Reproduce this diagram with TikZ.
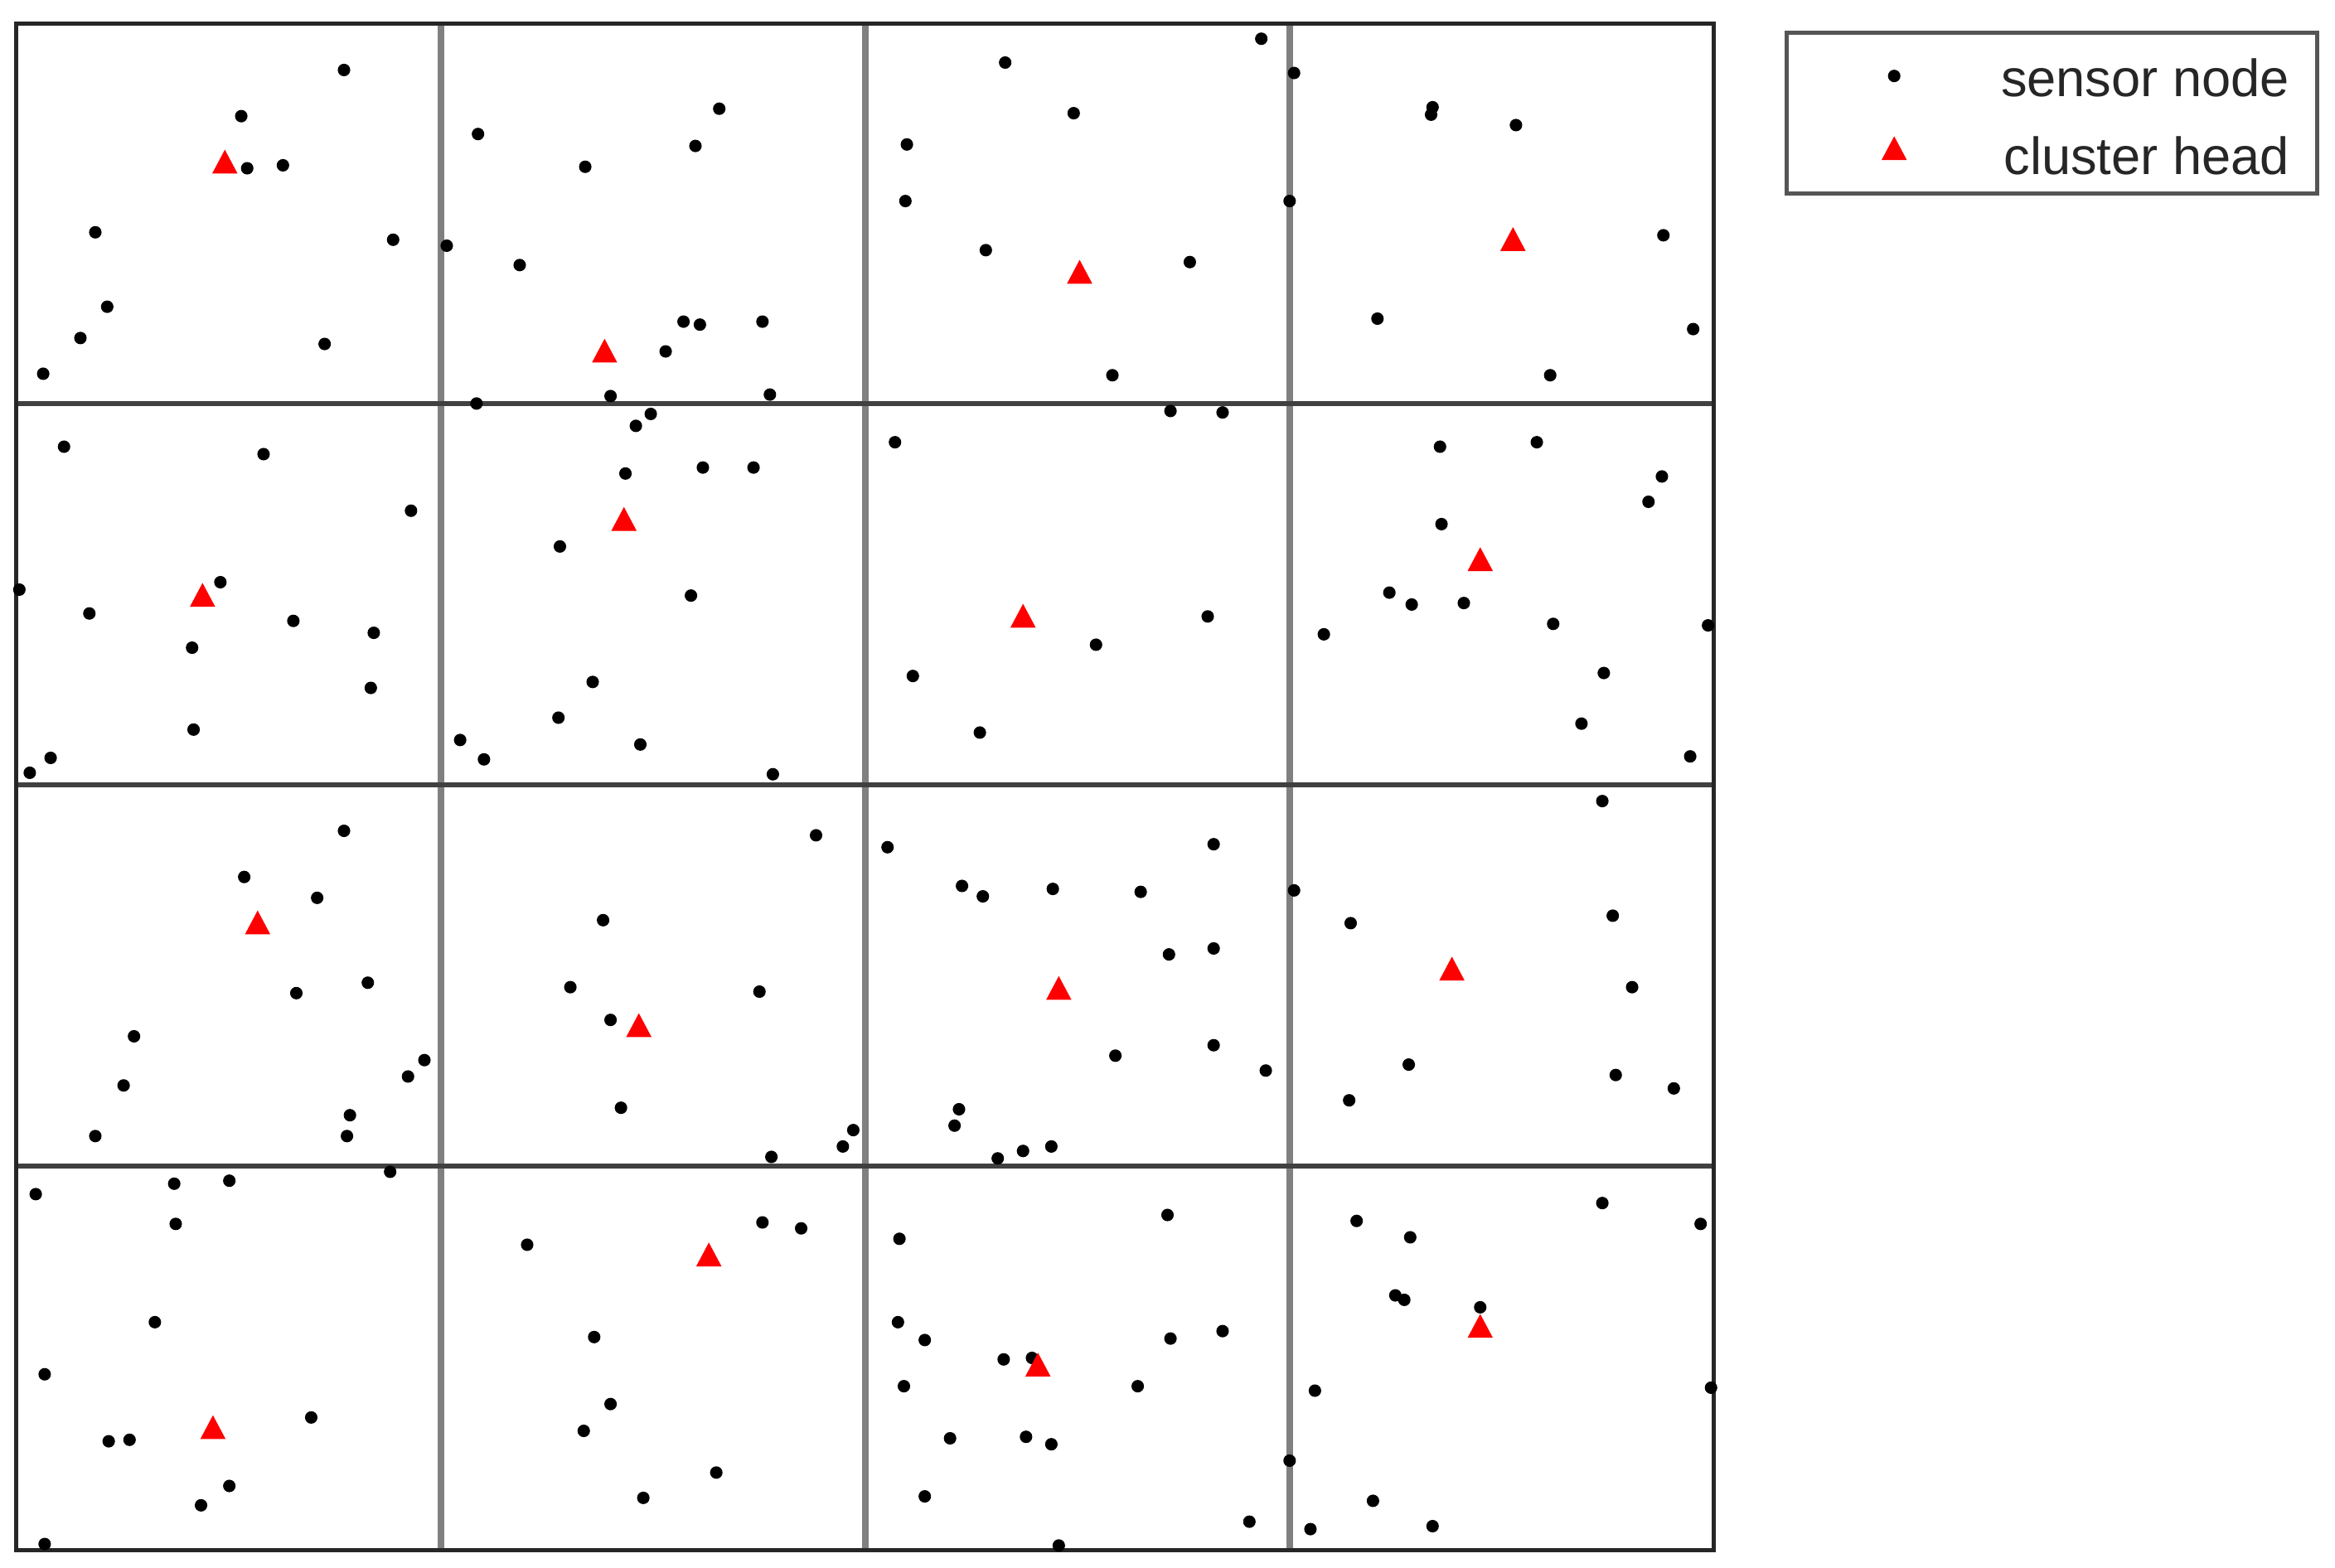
\documentclass[tikz,border=0pt]{standalone}
\usepackage{fontspec}
\setmainfont{Liberation Sans}
\definecolor{framec}{HTML}{262626}
\definecolor{vline}{HTML}{808080}
\definecolor{hline}{HTML}{404040}
\definecolor{legc}{HTML}{555555}
\definecolor{txtc}{HTML}{262626}
\tikzset{
  sdot/.style={fill=black,draw=none},
  chead/.style={fill=red,draw=none},
  legtext/.style={anchor=base east,inner sep=0pt,text=txtc,font=\fontsize{10}{12}\selectfont}
}
\begin{document}
\begin{tikzpicture}[x=0.01cm,y=-0.01cm]
\useasboundingbox[fill=white] (0,0) rectangle (1568,1053);
% grid
\foreach \gx in {296,581,866} \draw[vline,line width=1.3pt] (\gx,16) -- (\gx,1041);
\foreach \gy in {271,527,783} \draw[hline,line width=0.9pt] (11,\gy) -- (1151,\gy);
\draw[framec,line width=0.8pt] (11,16) rectangle (1151,1041);
% sensor nodes
\foreach \px/\py in {
231/47,162/78,166/113,190/111,64/156,264/161,72/206,54/227,218/231,29/251,
321/90,300/165,393/112,467/98,483/73,349/178,459/216,470/218,512/216,447/236,410/266,320/271,517/265,
675/42,847/26,721/76,609/97,608/135,662/168,799/176,747/252,
869/49,962/72,961/77,1018/84,866/135,1117/158,925/214,1137/221,1041/252,
43/300,177/305,276/343,13/396,148/391,60/412,197/417,251/425,129/435,249/462,130/490,34/509,20/519,
437/278,427/286,420/318,472/314,506/314,376/367,464/400,398/458,375/482,309/497,325/510,430/500,519/520,
786/276,821/277,601/297,811/414,736/433,613/454,658/492,
967/300,1032/297,1116/320,1107/337,968/352,933/398,948/406,983/405,889/426,1043/419,1147/420,1077/452,1062/486,1135/508,
231/558,164/589,213/603,247/660,199/667,90/696,83/729,285/712,274/723,235/749,233/763,64/763,262/787,
548/561,405/618,383/663,510/666,410/685,417/744,573/759,566/770,518/777,
596/569,646/595,660/602,707/597,766/599,815/567,785/641,815/637,749/709,815/702,850/719,644/745,641/756,670/778,687/773,706/770,
1076/538,869/598,907/620,1083/615,1096/663,946/715,1085/722,906/739,1124/731,
24/802,117/795,154/793,118/822,104/888,30/923,209/952,73/968,87/967,154/998,135/1011,30/1037,
354/836,512/821,538/825,399/898,410/943,392/961,481/989,432/1006,
604/832,784/816,603/888,621/900,674/913,693/912,786/899,821/894,607/931,764/931,638/966,689/965,706/970,621/1005,839/1022,711/1038,866/981,
1076/808,1142/822,911/820,947/831,937/870,943/873,994/878,883/934,1149/932,922/1008,962/1025,880/1027}
  \fill[sdot] (\px,\py) circle[radius=4.2];
% cluster heads
\foreach \tx/\ty in {151/109,406/236,725/183,1016/161,136/400,419/349,687/414,994/376,173/620,429/689,711/664,975/651,143/959,476/843,697/917,994/891}
  \fill[chead] (\tx-8.5,\ty+7.5) -- (\tx,\ty-8.5) -- (\tx+8.5,\ty+7.5) -- cycle;
% legend
\draw[legc,line width=0.8pt,fill=white] (1200,22) rectangle (1556,130);
\fill[sdot] (1272,51) circle[radius=4.2];
\fill[chead] (1272-8.5,100+7.5) -- (1272,100-8.5) -- (1272+8.5,100+7.5) -- cycle;
\node[legtext] (l1) at (1538,65) {sensor node};
\node[legtext] (l2) at (1538,117) {cluster head};
\end{tikzpicture}
\end{document}
